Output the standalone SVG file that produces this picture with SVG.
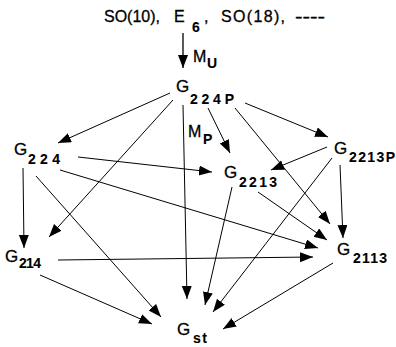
<svg xmlns="http://www.w3.org/2000/svg" width="396" height="347" viewBox="0 0 396 347">
<style>
text{font-family:"Liberation Sans",Arial,sans-serif;fill:#000;stroke:#000;stroke-width:0.3}
.big{font-size:17px}
.top{font-size:16px}
.sub{font-size:14px;font-weight:bold;stroke-width:0.1}
.e line{stroke:#000;stroke-width:1;fill:none;marker-end:url(#ah)}
</style>
<defs>
<marker id="ah" markerUnits="userSpaceOnUse" markerWidth="14" markerHeight="11" refX="13" refY="5" orient="auto">
<path d="M0,0 L13,5 L0,10 z" fill="#000"/>
</marker>
</defs>
<g id="top">
<text class="top" x="104" y="22" textLength="56">SO(10),</text>
<text class="top" x="174" y="22">E</text>
<text class="sub" x="192" y="32">6</text>
<text class="top" x="204" y="22">,</text>
<text class="top" x="221" y="22" textLength="64">SO(18),</text>
<text class="top" x="295" y="22" textLength="30" lengthAdjust="spacingAndGlyphs">----</text>
</g>
<g id="G224P"><text class="big" x="176" y="92">G</text><text class="sub" x="190" y="104" textLength="44">224P</text></g>
<g id="G224"><text class="big" x="14" y="155">G</text><text class="sub" x="28" y="164" textLength="32">224</text></g>
<g id="G2213P"><text class="big" x="334" y="154">G</text><text class="sub" x="349" y="162" textLength="46">2213P</text></g>
<g id="G2213"><text class="big" x="224" y="178">G</text><text class="sub" x="239" y="187" textLength="38">2213</text></g>
<g id="G2113"><text class="big" x="337" y="255">G</text><text class="sub" x="353" y="263" textLength="34">2113</text></g>
<g id="G214"><text class="big" x="5" y="262">G</text><text class="sub" x="19" y="268" textLength="22">214</text></g>
<g id="Gst"><text class="big" x="177" y="335">G</text><text class="sub" x="193" y="343" textLength="14">st</text></g>
<g id="labels">
<text class="top" x="193" y="62">M</text><text class="sub" x="207" y="68">U</text>
<text class="top" x="188" y="137">M</text><text class="sub" x="203" y="144">P</text>
</g>
<g class="e" id="connectors">
<line x1="183" y1="33" x2="183" y2="68" style="stroke-width:1.3"/>
<line x1="170" y1="93" x2="58" y2="143"/>
<line x1="173" y1="100" x2="49" y2="237"/>
<line x1="183" y1="105" x2="187" y2="299"/>
<line x1="208" y1="108" x2="230" y2="153"/>
<line x1="235" y1="108" x2="330" y2="224"/>
<line x1="245" y1="103" x2="328" y2="137"/>
<line x1="78" y1="157" x2="212" y2="172"/>
<line x1="60" y1="170" x2="318" y2="248"/>
<line x1="23" y1="168" x2="24" y2="248"/>
<line x1="36" y1="176" x2="161" y2="317"/>
<line x1="327" y1="147" x2="271" y2="170"/>
<line x1="340" y1="165" x2="343" y2="238"/>
<line x1="332" y1="158" x2="213" y2="312"/>
<line x1="258" y1="192" x2="327" y2="240"/>
<line x1="232" y1="187" x2="205" y2="305"/>
<line x1="58" y1="260" x2="313" y2="257"/>
<line x1="40" y1="275" x2="152" y2="324"/>
<line x1="333" y1="263" x2="223" y2="329"/>
</g>
</svg>
